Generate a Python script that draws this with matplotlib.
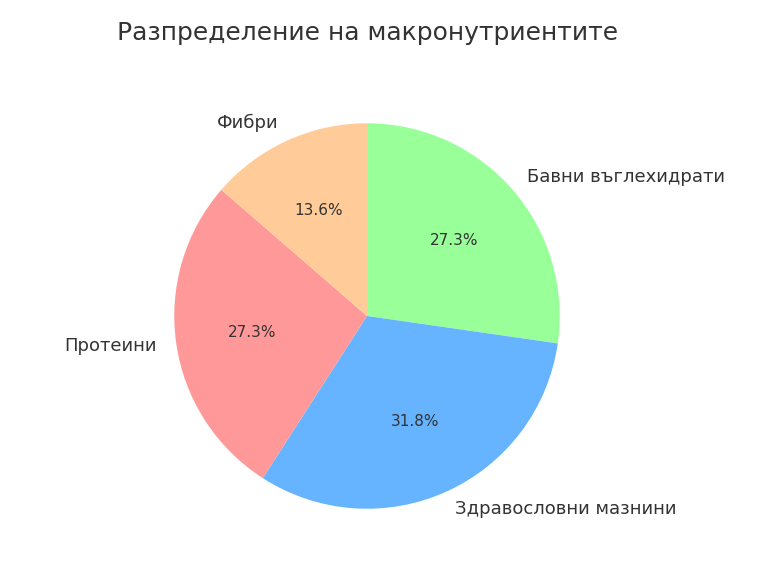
import matplotlib.pyplot as plt

labels = ['Бавни въглехидрати', 'Здравословни мазнини', 'Протеини', 'Фибри']
values = [6, 7, 6, 3]
colors = ['#99ff99', '#66b3ff', '#ff9999', '#ffcc99']

plt.rcParams['text.color'] = '#333333'
fig = plt.figure(figsize=(7.7, 5.84), dpi=100)
ax = fig.add_axes([155 / 770, 56 / 584, 424 / 770, 424 / 584])
ax.pie(values, labels=labels, colors=colors, autopct='%1.1f%%',
       startangle=90, counterclock=False,
       textprops={'fontsize': 11})
for t in ax.texts:
    if '%' not in t.get_text():
        t.set_fontsize(13)
ax.axis('equal')
fig.text(368 / 770, 1 - 33 / 584, 'Разпределение на макронутриентите',
         fontsize=18, color='#333333', ha='center', va='center')
fig.savefig('out.png')
